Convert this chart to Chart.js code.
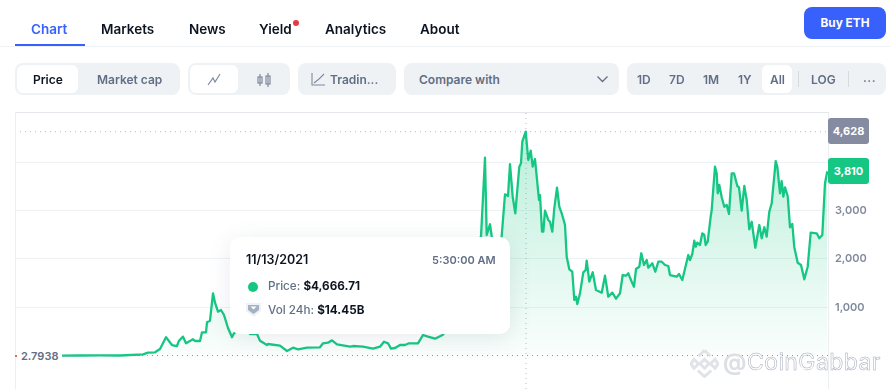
<!DOCTYPE html>
<html><head><meta charset="utf-8">
<script src="https://cdn.jsdelivr.net/npm/chart.js@4"></script>
<style>
html,body{margin:0;padding:0;background:#fff}
body{width:890px;height:389px;position:relative;overflow:hidden;font-family:Inter,"Noto Sans",sans-serif;color:#0d1421}
#c{position:absolute;left:0;top:0}
.a{position:absolute;white-space:nowrap}
.tab{top:20px;font-size:13.5px;line-height:18px;font-weight:600;color:#0d1421}
.box{background:#eff2f5;border-radius:8px}
.wh{background:#fff;border-radius:6px}
.t{font-size:12px;line-height:16px;font-weight:600;color:#616e85;top:72px}
.badge{left:828px;width:41px;height:26px;border-radius:3px;color:#fff;font-size:11px;font-weight:700;line-height:26px;text-align:center}
.tip{font-size:11.7px;line-height:16px}
</style></head><body>
<canvas id="c" width="890" height="409"></canvas>

<div class="a" style="left:15px;top:112px;width:812px;height:277px;border-top:1px solid #e3e6ea;border-left:1px solid #eceef2;border-right:1px solid #eceef2;pointer-events:none"></div>

<div class="a" style="left:0;top:46px;width:890px;height:1px;background:#eff2f5"></div>
<div class="a" style="left:15px;top:44px;width:70px;height:2px;background:#3861fb"></div>
<span class="a tab" style="left:31px;color:#3861fb">Chart</span>
<span class="a tab" style="left:101px">Markets</span>
<span class="a tab" style="left:189px">News</span>
<span class="a tab" style="left:259px">Yield</span>
<div class="a" style="left:293px;top:20px;width:6px;height:6px;border-radius:50%;background:#ea3943"></div>
<span class="a tab" style="left:325px">Analytics</span>
<span class="a tab" style="left:420px">About</span>
<div class="a" style="left:804px;top:7px;width:82px;height:32px;border-radius:8px;background:#3861fb;color:#fff;font-size:11.8px;font-weight:700;line-height:32px;text-align:center">Buy ETH</div>

<div class="a box" style="left:15px;top:63px;width:165px;height:32px"></div>
<div class="a wh" style="left:17px;top:65px;width:61px;height:28px"></div>
<span class="a t" style="left:33px;color:#0d1421">Price</span>
<span class="a t" style="left:97px">Market cap</span>

<div class="a box" style="left:188px;top:63px;width:102px;height:32px"></div>
<div class="a wh" style="left:190px;top:65px;width:48px;height:28px"></div>
<svg class="a" style="left:207px;top:73px" width="14" height="13" fill="none" stroke="#808a9d" stroke-width="1.2"><path d="M1 12 L6 5 L8 9 L13 1"/></svg>
<svg class="a" style="left:257px;top:73px" width="14" height="14" fill="none" stroke="#808a9d" stroke-width="1.2"><rect x="1" y="4" width="4" height="6"/><rect x="9" y="3" width="4" height="8"/><path d="M3 1V13M11 0V14"/></svg>

<div class="a box" style="left:298px;top:63px;width:98px;height:32px"></div>
<svg class="a" style="left:311px;top:73px" width="15" height="13" fill="none" stroke="#808a9d" stroke-width="1.1"><path d="M1 0V12H14M3 10 L8 6 L13 1"/></svg>
<span class="a t" style="left:330px">Tradin...</span>

<div class="a box" style="left:404px;top:63px;width:215px;height:32px"></div>
<span class="a t" style="left:419px">Compare with</span>
<svg class="a" style="left:596px;top:75px" width="13" height="9" fill="none" stroke="#616e85" stroke-width="1.3"><path d="M1.5 1.5 L6.5 6.5 L11.5 1.5"/></svg>

<div class="a box" style="left:627px;top:63px;width:259px;height:32px"></div>
<div class="a wh" style="left:762px;top:65px;width:30px;height:28px"></div>
<span class="a t" style="left:637px">1D</span>
<span class="a t" style="left:669px">7D</span>
<span class="a t" style="left:703px">1M</span>
<span class="a t" style="left:738px">1Y</span>
<span class="a t" style="left:770px">All</span>
<div class="a" style="left:798px;top:71px;width:1px;height:16px;background:#d5d9e0"></div>
<span class="a t" style="left:811px">LOG</span>
<div class="a" style="left:848px;top:71px;width:1px;height:16px;background:#d5d9e0"></div>
<span class="a t" style="left:863px;top:70px;letter-spacing:.5px">...</span>

<div class="a badge" style="top:118px;background:#858ca2">4,628</div>
<div class="a badge" style="top:158px;background:#16c784">3,810</div>

<div class="a" style="left:19px;top:349px;width:41px;height:15px;background:#fff;color:#616e85;font-size:11px;font-weight:600;line-height:15px;padding-left:2px">2.7938</div>
<div class="a" style="left:15px;top:355px;width:2px;height:2px;background:#ea6a4a"></div>

<div class="a" style="left:230px;top:237px;width:280px;height:97px;background:#fff;border-radius:10px;box-shadow:0 4px 22px rgba(88,102,126,.13)"></div>
<span class="a tip" style="left:246px;top:252px;font-weight:600;color:#0d1421;font-size:12.5px">11/13/2021</span>
<span class="a tip" style="left:432px;top:252px;font-weight:600;color:#616e85;font-size:11px">5:30:00 AM</span>
<div class="a" style="left:248px;top:282px;width:10px;height:10px;border-radius:50%;background:#16c784"></div>
<span class="a tip" style="left:268px;top:278px;color:#616e85;font-weight:500">Price: <b style="color:#0d1421;font-weight:700">$4,666.71</b></span>
<svg class="a" style="left:245px;top:302px" width="17" height="16"><path d="M1 1H16V9L8.5 15L1 9Z" fill="#eff2f5"/><path d="M3 3H14V8L8.5 12L3 8Z" fill="#a6b0c3"/><path d="M5.5 4.5H11.5L8.5 7.5Z" fill="#fff"/></svg>
<span class="a tip" style="left:268px;top:302px;color:#616e85;font-weight:500">Vol 24h: <b style="color:#0d1421;font-weight:700">$14.45B</b></span>

<svg class="a" style="left:690px;top:348px" width="29" height="30" viewBox="0 0 38 40" fill="none" stroke="#e0e3e8" stroke-width="4"><path d="M19 3 L27 11 M19 3 L11 11 M5 15 L11 21 L5 27 L1 21Z M33 15 L37 21 L33 27 L27 21Z M19 15 L25 21 L19 27 L13 21Z M10 30 L19 38 L28 30"/></svg>
<span class="a" style="left:723px;top:347px;font-size:23px;line-height:30px;font-weight:700;color:#dcdfe4">@</span>
<span class="a" style="left:747px;top:347px;font-size:23px;line-height:30px;color:rgba(255,255,255,.8);-webkit-text-stroke:.5px #a4abbb;letter-spacing:.4px;font-weight:400">CoinGabbar</span>

<script>
// Sample number along the history (about 5 days each), counted from launch
const steps = [0,18,38,58,81,86,93,98,104,110,115,117,121,124,131,133,138,140,144,145,148,151,153,156,159,162,166,170,172,176,183,188,195,198,205,206,218,225,231,236,245,258,261,266,270,275,288,291,301,311,318,322,326,329,333,338,343,347,356,361,366,373,381,388,396,403,410,416,419,423,424.7,428,429.7,432,435,439.7,443,446,448,450.7,453.3,457.3,459,460.3,463.7,466.3,468.7,470.7,473,477,478,480,481.3,483,486.3,488,490.3,492.3,495,497.3,499.7,503,504.7,507.3,510.3,512.3,514,515.3,518,521.3,523.7,524.7,527.3,530.7,534,539.7,543,546.3,550.3,554,558,560.7,564,566.3,569.7,572,574,577.3,579.3,582,584.7,586.3,590.3,593.3,596.3,599.7,603,606.3,608,614.7,617,620.3,626.3,628,630.3,632.3,633.7,635.3,638,640.3,642.3,643.7,645.7,648.7,649.7,653,654.7,655.7,657.3,659.7,662.3,664.7,667,669.7,672,675.3,677,679.7,682.3,684.7,687.3,689.7,693.3,697.3,699.7,702.3,704.7,707.3,709.7,713.7,715.3,718,719.7,721.3,723,725.7,728,730.3,732.3,735.7,739,742.3,745.7,748.7,754.7,757.3,760.3,763,765.3];
// ETH price in USD at each sample
const prices = [3,4,5,4,29,62,70,138,380,221,200,310,393,256,339,304,304,483,483,690,723,1289,1095,909,944,841,572,380,463,530,696,448,448,310,221,242,207,97,165,132,165,174,256,269,318,236,186,200,186,145,186,289,256,145,159,221,221,256,256,428,393,351,434,634,1150,1770,2184,2390,2459,4091,2494,2715,2473,1936,1936,2473,3335,3300,3960,3285,2942,3905,3975,4421,4628,4043,4235,3905,4064,3217,3320,2562,2562,2996,2804,2768,2562,3045,3471,3078,2942,2700,2045,1785,1735,1151,1219,1068,1289,1723,1771,1963,1529,1723,1357,1302,1653,1219,1302,1178,1289,1667,1653,1702,1529,1426,1791,1839,2116,1874,1977,1818,1909,1735,1942,1942,1874,1853,1667,1632,1688,1564,2080,1977,2101,2376,2252,2335,2287,2529,2494,2287,2355,2872,3010,3905,3768,3355,3527,3273,3078,3113,2928,3768,3768,3506,3479,2996,3506,3217,2611,2768,2231,2700,2425,2653,2459,2975,3149,4022,3905,3355,3609,3285,3479,3299,2653,2721,2240,1921,1874,1578,1839,2541,2529,2425,2494,3562,3810];
const tickValues = [1000,2000,3000,4000];
const tickLabels = ['1,000','2,000','3,000',''];
const highPrice = 4628;
const lowPrice = 2.7938;
const peakStep = 464;
const xRange = [-47, 766];
const yRange = [-688, 5035];

const series = steps.map((s,i)=>({x:s,y:prices[i]}));

new Chart(document.getElementById('c'),{
  type:'line',
  data:{datasets:[
    {label:'Price',data:series,parsing:false,borderColor:'#16c784',borderWidth:2.3,borderJoinStyle:'round',pointRadius:0,tension:0,order:1,
     fill:{value:0},
     backgroundColor(ctx){
       const a=ctx.chart.chartArea; if(!a) return 'transparent';
       const g=ctx.chart.ctx.createLinearGradient(0,a.top+15,0,ctx.chart.scales.y.getPixelForValue(0));
       g.addColorStop(0,'rgba(22,199,132,.3)');
       g.addColorStop(1,'rgba(22,199,132,.02)');
       return g;
     }},
    {label:'High',data:[{x:xRange[0],y:highPrice},{x:xRange[1],y:highPrice}],borderColor:'#b4b9c4',borderWidth:1,borderDash:[1,4],pointRadius:0,fill:false,order:3},
    {label:'Low',data:[{x:steps[0],y:lowPrice},{x:xRange[1],y:lowPrice}],borderColor:'#8a90a0',borderWidth:1,borderDash:[1,4],pointRadius:0,fill:false,order:3},
    {label:'Low run',data:[{x:steps[0],y:lowPrice},{x:steps[4],y:lowPrice}],borderColor:'#ea6a4a',borderWidth:1,borderDash:[2,2],pointRadius:0,fill:false,order:0},
    {label:'Crosshair',data:[{x:peakStep,y:yRange[0]},{x:peakStep,y:yRange[1]}],borderColor:'#b4b9c4',borderWidth:1,borderDash:[1,4],pointRadius:0,fill:false,order:3}
  ]},
  options:{
    responsive:false,animation:false,events:[],
    layout:{padding:{left:15,right:0,top:112,bottom:20}},
    plugins:{legend:{display:false},tooltip:{enabled:false}},
    scales:{
      x:{type:'linear',min:xRange[0],max:xRange[1],display:false},
      y:{position:'right',min:yRange[0],max:yRange[1],
         afterFit(s){s.width=62;},
         afterBuildTicks(s){s.ticks=tickValues.map(v=>({value:v}));s.min=yRange[0];s.max=yRange[1];},
         border:{display:false},
         grid:{color:'#eff2f5',lineWidth:1,drawTicks:false},
         ticks:{padding:7,color:'#808a9d',font:{family:'Inter',size:11,weight:'600'},
                callback(v){const i=tickValues.indexOf(v);return i<0?'':tickLabels[i];}}}
    }
  }
});
</script>
</body></html>
